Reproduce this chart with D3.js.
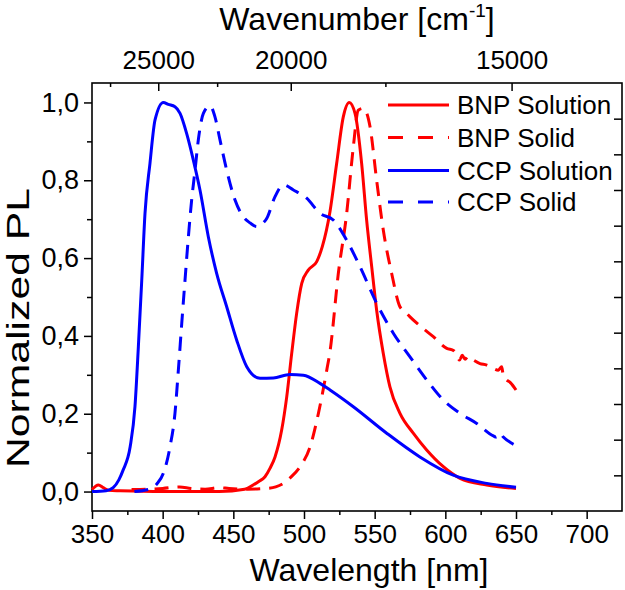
<!DOCTYPE html>
<html><head><meta charset="utf-8">
<script src="https://cdn.jsdelivr.net/npm/d3@7"></script>
<style>
html,body{margin:0;padding:0;background:#fff;}
svg text{font-family:"Liberation Sans",Arial,sans-serif;fill:#000;}
</style></head>
<body>
<svg id="chart" width="625" height="590"></svg>
<script>
// ---- data ----
const bnpSolutionX = [350,354.5,358,362,370,400,440,458,464,468,472.4,476,479.5,484.2,487.8,491.3,494.8,498.4,503,509,513,518.4,523.1,527.8,532,536.1,540.8,544.3,547.9,551.4,556.1,560.8,567.9,577.3,586.8,598.6,610.4,629.3,650];
const bnpSolutionY = [0.005,0.017,0.01,0.003,0.002,0.0,0.0,0.006,0.017,0.026,0.038,0.06,0.089,0.158,0.244,0.355,0.458,0.535,0.569,0.591,0.63,0.72,0.843,0.963,1.0,0.972,0.843,0.698,0.578,0.466,0.355,0.269,0.201,0.150,0.107,0.064,0.034,0.017,0.008];

const bnpSolidX = [378,390,400,412,420,430,440,447,460,473.6,480,485.4,491,497.2,504.3,510.2,516.1,518.4,524.3,530.2,534.9,538.4,542,546.7,551.4,556.1,562,567.9,571.5,575,583.3,591.5,601,606,608,610,612,614,616,619.8,624.5,629.3,633,637.5,639.9,641,643.4,646,650];
const bnpSolidY = [0.005,0.006,0.008,0.012,0.008,0.006,0.01,0.008,0.006,0.008,0.012,0.021,0.038,0.064,0.115,0.201,0.312,0.36,0.561,0.715,0.886,0.98,0.985,0.938,0.8,0.672,0.561,0.475,0.462,0.449,0.422,0.398,0.368,0.362,0.352,0.338,0.35,0.34,0.347,0.338,0.329,0.325,0.318,0.312,0.321,0.298,0.287,0.28,0.261];

const ccpSolutionX = [350,360,365,369,372,377,380.4,382.8,385.2,387.5,391,394.6,400.5,404,408.7,412.3,417,421.7,426.4,432.3,438.2,445.3,452.4,459.5,468.9,478.3,490.1,499.5,511.3,518.4,534.9,558.5,582,605.6,629.3,650];
const ccpSolutionY = [0.0,0.002,0.01,0.03,0.055,0.115,0.218,0.372,0.543,0.715,0.843,0.955,1.0,0.995,0.989,0.972,0.92,0.852,0.775,0.655,0.561,0.475,0.389,0.321,0.291,0.292,0.301,0.299,0.278,0.261,0.218,0.150,0.089,0.042,0.021,0.011];

const ccpSolidX = [380,392,396,400.5,405.2,408.7,411.1,413.5,415.8,418.2,420.5,422.9,425.2,428.8,433.5,437,440.6,445.3,451.2,457.1,462,466.5,470,473.6,479.5,485.4,492.5,501.9,511.3,520.7,530.2,539.6,551.4,563.2,575,586.8,598.6,610.4,622.2,634,636,638.7,641,647,650];
const ccpSolidY = [0.0,0.008,0.02,0.047,0.115,0.201,0.312,0.432,0.543,0.655,0.749,0.826,0.903,0.972,0.991,0.963,0.903,0.826,0.749,0.706,0.69,0.681,0.687,0.702,0.758,0.788,0.775,0.754,0.715,0.698,0.646,0.578,0.484,0.407,0.346,0.287,0.235,0.201,0.175,0.143,0.14,0.15,0.14,0.124,0.118];

const seriesNames = ["BNP Solution","BNP Solid","CCP Solution","CCP Solid"];
const seriesColors = ["#ff0000","#ff0000","#0000ff","#0000ff"];
const seriesDashed = [false,true,false,true];

const xTicks = [350,400,450,500,550,600,650,700];
const xMinorTicks = [375,425,475,525,575,625,675];
const yTicks = [0,0.2,0.4,0.6,0.8,1.0];
const yMinorTicks = [0.1,0.3,0.5,0.7,0.9];
const topTicks = [25000,20000,15000];
const topMinorTicks = [27500,22500,17500];
const rightTicks = [1,2,3,4,5,6,7,8,9,10,11];

// ---- layout ----
const L = 92, R = 622, T = 83, B = 511;
const svg = d3.select("#chart");

const x = d3.scaleLinear().domain([350,725]).range([L,R]);
const y = d3.scaleLinear().domain([-0.05,1.05]).range([B,T]);
// top axis: wavelength range 350-750 shown as wavenumber
const xTop = d3.scaleLinear().domain([350,750]).range([L,R]);
const yRight = d3.scaleLinear().domain([0,12]).range([B,T]);

const fmtY = d => d3.format(".1f")(d).replace(".", ",");

// bottom axis
const gB = svg.append("g").attr("transform",`translate(0,${B})`);
gB.call(d3.axisBottom(x).tickValues(xTicks).tickSize(8).tickPadding(6).tickFormat(d3.format("d")));
gB.append("g").call(d3.axisBottom(x).tickValues(xMinorTicks).tickSize(4).tickFormat(""));
// left axis
const gL = svg.append("g").attr("transform",`translate(${L},0)`);
gL.call(d3.axisLeft(y).tickValues(yTicks).tickSize(8).tickPadding(5).tickFormat(fmtY));
gL.append("g").call(d3.axisLeft(y).tickValues(yMinorTicks).tickSize(5).tickFormat(""));
// top axis
const gT = svg.append("g").attr("transform",`translate(0,${T})`);
gT.call(d3.axisTop(xTop).tickValues(topTicks.map(v=>1e7/v)).tickSize(-8).tickPadding(14).tickFormat(d=>Math.round(1e7/d)));
gT.append("g").call(d3.axisTop(xTop).tickValues(topMinorTicks.map(v=>1e7/v)).tickSize(-4).tickFormat(""));
// right axis
const gR = svg.append("g").attr("transform",`translate(${R},0)`);
gR.call(d3.axisRight(yRight).tickValues(rightTicks).tickSize(-8).tickFormat(""));

svg.selectAll(".domain").remove();
svg.selectAll(".tick line").attr("stroke","#000").attr("stroke-width",1.5);
svg.selectAll(".tick text").attr("font-size",26).attr("fill","#000");
gL.selectAll(".tick text").attr("font-size",27);
gT.selectAll(".tick text").attr("y",-14);

// frame
svg.append("rect").attr("x",L).attr("y",T).attr("width",R-L).attr("height",B-T)
  .attr("fill","none").attr("stroke","#000").attr("stroke-width",1.6);

// curves
const seriesX = [bnpSolutionX,bnpSolidX,ccpSolutionX,ccpSolidX];
const seriesY = [bnpSolutionY,bnpSolidY,ccpSolutionY,ccpSolidY];
const line = d3.line().x(d=>x(d[0])).y(d=>y(d[1])).curve(d3.curveMonotoneX);
[0,1,2,3].forEach(i=>{
  const pts = seriesX[i].map((v,k)=>[v,seriesY[i][k]]);
  svg.append("path").datum(pts).attr("d",line)
    .attr("fill","none").attr("stroke",seriesColors[i]).attr("stroke-width",3)
    .attr("stroke-dasharray",seriesDashed[i]?"14,9":null)
    .attr("stroke-linejoin","round");
});

// legend
const legY = [105,137.5,170.5,202];
seriesNames.forEach((n,i)=>{
  svg.append("line").attr("x1",388).attr("x2",449).attr("y1",legY[i]).attr("y2",legY[i])
    .attr("stroke",seriesColors[i]).attr("stroke-width",3)
    .attr("stroke-dasharray",seriesDashed[i]?"15,15":null);
  svg.append("text").attr("x",457).attr("y",legY[i]).attr("dy","0.35em")
    .attr("font-size",26).text(n);
});

// axis titles
svg.append("text").attr("x",369).attr("y",581).attr("text-anchor","middle")
  .attr("font-size",32).text("Wavelength [nm]");
const tt = svg.append("text").attr("x",(L+R)/2).attr("y",30).attr("text-anchor","middle")
  .attr("font-size",32);
tt.append("tspan").text("Wavenumber [cm");
tt.append("tspan").attr("font-size",19).attr("dy",-13).text("-1");
tt.append("tspan").attr("dy",13).text("]");
svg.append("text").attr("transform",`translate(29,328) rotate(-90)`)
  .attr("text-anchor","middle").attr("font-size",32)
  .attr("textLength",280).attr("lengthAdjust","spacingAndGlyphs")
  .text("Normalized PL");
</script>
</body></html>
